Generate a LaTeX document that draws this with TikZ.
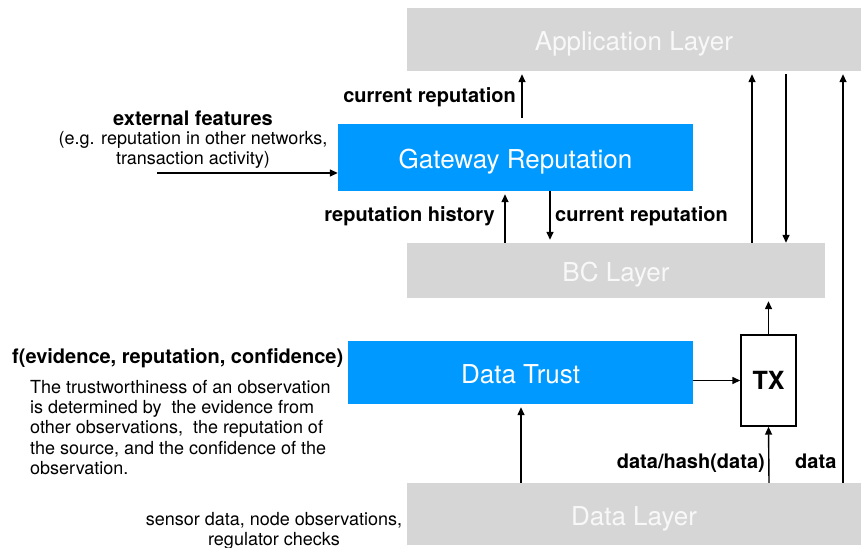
\documentclass[tikz,border=0pt]{standalone}
\usepackage{fontspec}
\setmainfont{TeX Gyre Heros}
\usetikzlibrary{arrows.meta}
\definecolor{layergray}{RGB}{214,214,214}
\definecolor{trustblue}{RGB}{0,153,255}
\definecolor{layertext}{RGB}{248,248,248}
\begin{document}
\begin{tikzpicture}[x=1pt,y=-1pt,
  layer/.style={fill=layergray,draw=none,inner sep=0pt,text=layertext,font=\fontsize{26}{30}\selectfont,text height=22pt,text depth=0pt},
  bluebox/.style={fill=trustblue,draw=none,inner sep=0pt,text=white,font=\fontsize{26}{30}\selectfont,text height=22pt,text depth=0pt},
  arr/.style={-{Triangle[length=8pt,width=7pt]},line width=1.4pt,black},
  lbl/.style={font=\fontsize{20}{24}\selectfont\bfseries,inner sep=0pt},
  note/.style={font=\fontsize{18}{20.3}\selectfont,inner sep=0pt}]
\useasboundingbox (0,0) rectangle (861,548);
% boxes
\node[layer,minimum width=454pt,minimum height=63pt] (app) at (634,39.5) {Application Layer};
\node[bluebox,minimum width=355pt,minimum height=67pt] (gw) at (515.5,157.5) {Gateway Reputation};
\node[layer,minimum width=418pt,minimum height=55pt] (bc) at (616,270.5) {BC Layer};
\node[bluebox,minimum width=345pt,minimum height=63pt] (dt) at (520.5,372.5) {Data Trust};
\node[draw=black,line width=1.4pt,fill=white,minimum width=55pt,minimum height=91pt,inner sep=0pt,font=\fontsize{25}{30}\selectfont\bfseries] (tx) at (768.5,380.5) {TX};
\node[layer,minimum width=454pt,minimum height=62pt] (dl) at (634,514) {Data Layer};
% x positions
\coordinate (xa) at (522,0);
\coordinate (xb) at (505,0);
\coordinate (xc) at (550,0);
\coordinate (xd) at (752,0);
\coordinate (xe) at (786,0);
\coordinate (xf) at (843,0);
\coordinate (xg) at (769,0);
\coordinate (xh) at (521,0);
\coordinate (ext) at (157,173);
% arrows
\draw[arr,shorten >=3pt,shorten <=6pt] (gw.north -| xa) -- (app.south -| xa);
\draw[arr,shorten >=3pt] (bc.north -| xb) -- (gw.south -| xb);
\draw[arr,shorten >=3pt] (gw.south -| xc) -- (bc.north -| xc);
\draw[arr,shorten >=3pt] (bc.north -| xd) -- (app.south -| xd);
\draw[arr,shorten <=3pt] (app.south -| xe) -- (bc.north -| xe);
\draw[arr,shorten >=3pt] (dl.north -| xf) -- (app.south -| xf);
\draw[arr] (ext) -- (ext -| gw.west);
\draw[arr] (dt.east |- tx.west) -- (tx.west);
\draw[arr,shorten >=3pt] (tx.north) -- (bc.south -| tx.north);
\draw[arr] (dl.north -| xg) -- (tx.south);
\draw[arr,shorten >=3pt] (dl.north -| xh) -- (dt.south -| xh);
% labels
\node[lbl,anchor=east] (l1) at (516,97) {current reputation};
\node[lbl,anchor=east] (l2) at (495,216) {reputation history};
\node[lbl,anchor=west] (l3) at (555,216) {current reputation};
\node[lbl,anchor=east] (l4) at (765,463) {data/hash(data)};
\node[lbl,anchor=west] (l5) at (795,461) {data};
\node[lbl] (ef) at (193,118) {external features};
\node[note,align=center,anchor=north] (efn) at (193,131) {(e.g. reputation in other networks,\\transaction activity)};
\node[lbl,anchor=west] (fn) at (12,358) {f(evidence, reputation, confidence)};
\node[note,align=left,anchor=north west] (para) at (30,380) {The trustworthiness of an observation\\is determined by\ \ the evidence from\\other observations,\ \ the reputation of\\the source, and the confidence of the\\observation.};
\node[note,align=center,anchor=north] (sd) at (274,512) {sensor data, node observations,\\regulator checks};
\end{tikzpicture}
\end{document}
